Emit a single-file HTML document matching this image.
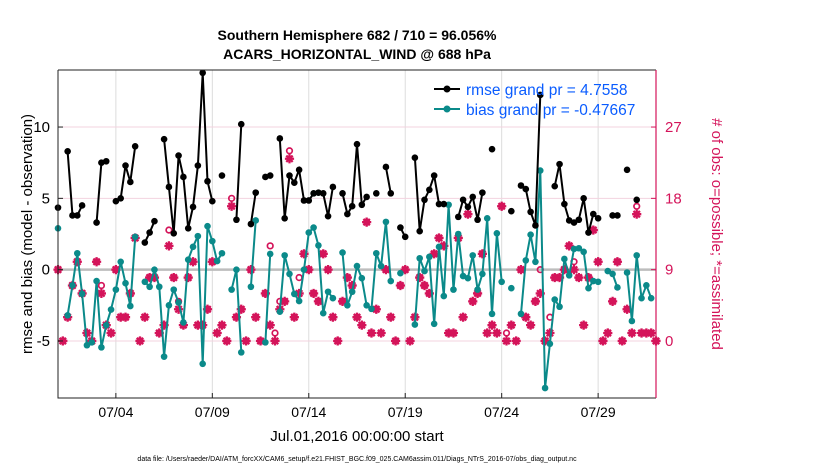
<!DOCTYPE html>
<html><head><meta charset="utf-8">
<style>
body{margin:0;background:#fff;}
svg text{font-family:"Liberation Sans",sans-serif;}
</style></head>
<body>
<svg id="chart" width="830" height="470" viewBox="0 0 830 470" xmlns="http://www.w3.org/2000/svg">
<rect width="830" height="470" fill="#fff"/>
<text x="357" y="40" text-anchor="middle" font-size="14" font-weight="bold">Southern Hemisphere 682 / 710 = 96.056%</text>
<text x="357" y="59" text-anchor="middle" font-size="14" font-weight="bold">ACARS_HORIZONTAL_WIND @ 688 hPa</text>
<g id="grid"></g>
<g id="series"></g>
<g id="axes"></g>
<text transform="translate(32,234) rotate(-90)" text-anchor="middle" font-size="15">rmse and bias (model - observation)</text>
<text transform="translate(712,234) rotate(90)" text-anchor="middle" font-size="15" fill="#d4145a"># of obs: o=possible; *=assimilated</text>
<text x="357" y="441" text-anchor="middle" font-size="15">Jul.01,2016 00:00:00 start</text>
<text x="357" y="461" text-anchor="middle" font-size="7">data file: /Users/raeder/DAI/ATM_forcXX/CAM6_setup/f.e21.FHIST_BGC.f09_025.CAM6assim.011/Diags_NTrS_2016-07/obs_diag_output.nc</text>
<g>
<line x1="434" y1="89" x2="460" y2="89" stroke="#000" stroke-width="2"/>
<circle cx="447" cy="89" r="3.5" fill="#000"/>
<text x="466" y="95" font-size="15.5" fill="#0a5cff">rmse grand pr = 4.7558</text>
<line x1="434" y1="109" x2="460" y2="109" stroke="#0b8a8a" stroke-width="2"/>
<circle cx="447" cy="109" r="3.5" fill="#0b8a8a"/>
<text x="466" y="115" font-size="15.5" fill="#0a5cff">bias grand pr = -0.47667</text>
</g>
</svg>
<script>
const n=null;
const rmse=[4.35,n,8.3,3.8,3.8,4.5,n,n,3.3,7.5,7.6,n,4.8,5.0,7.3,6.15,8.65,n,1.9,2.6,3.4,n,9.15,5.8,2.55,8.0,6.5,2.9,4.4,7.3,13.8,6.2,4.8,n,6.6,n,n,3.5,10.2,n,3.2,5.4,n,6.5,6.6,n,9.2,3.6,6.6,6.1,7.0,4.85,4.85,5.35,5.4,5.35,3.75,5.8,n,5.35,3.9,4.45,8.8,4.55,5.1,n,5.35,n,7.2,5.35,n,2.95,2.3,n,7.85,2.7,4.9,5.6,6.6,4.6,4.6,n,n,3.7,4.9,4.4,5.1,3.5,5.4,n,8.45,n,n,n,4.1,n,5.9,5.65,4.05,3.1,12.25,n,n,5.85,7.4,4.6,3.45,3.3,3.5,5.0,2.6,3.9,3.6,n,n,3.8,3.8,n,7.0,n,4.9,n,n,n,n];
const bias=[2.9,n,-3.2,-1.1,1.15,-1.7,-5.3,-5.1,-0.8,-5.45,-3.9,-2.8,-1.4,0.55,-0.95,-2.55,2.3,n,-0.85,-1.2,0.0,-1.2,-6.1,-2.5,-1.4,-2.3,-3.7,0.7,1.6,2.35,-6.6,3.05,2.0,0.6,1.15,n,-1.4,0.0,-5.8,n,-1.2,3.45,n,-5.1,1.1,n,-2.95,1.0,-0.3,-1.7,-2.2,0.0,2.6,2.95,1.7,-3.05,-1.55,-2.0,n,1.2,-2.5,-1.55,0.25,-0.6,-2.5,-2.75,1.15,0.25,3.35,-0.8,n,-0.25,n,n,-3.85,0.8,-0.1,0.9,-3.8,1.6,-1.85,4.55,-1.4,2.5,-0.45,-0.6,1.0,-1.4,-0.3,3.6,-3.1,2.55,-0.85,n,-1.3,n,-3.1,0.65,2.45,0.55,6.95,-8.3,-5.2,-2.1,-2.6,0.75,-0.4,1.45,1.5,1.25,-1.3,-0.8,-0.85,n,-0.1,-0.3,-1.25,n,-0.2,-3.6,1.0,-2.0,-1.1,-2.0,n];
const assimilated=[9,0,3,7,10,6,1,0,10,6,2,1,9,3,3,6,13,0,3,8,8,1,2,12,8,4,2,8,10,2,2,4,10,1,2,0,17,3,4,0,9,3,0,6,2,0,4,5,23,3,6,11,9,6,5,11,9,3,0,5,8,7,3,2,15,1,4,1,9,3,0,7,9,0,3,8,7,6,11,13,12,1,1,13,3,16,5,6,11,1,2,1,17,0,2,0,9,3,2,5,6,0,1,8,8,9,12,9,8,2,8,14,10,0,1,5,10,0,4,1,16,1,1,1,0];
const possible=[9,0,3,7,10,6,1,0,10,7,2,1,9,3,3,6,13,0,3,8,8,1,2,14,8,5,2,8,10,2,2,4,10,1,2,0,18,3,4,0,9,3,0,6,12,1,5,5,24,3,8,11,9,6,5,11,9,3,0,5,8,7,3,2,15,1,4,1,9,3,0,7,9,0,3,8,7,6,11,13,12,1,1,13,3,16,5,6,11,1,2,1,17,1,2,0,9,3,2,5,9,0,3,8,8,9,12,10,8,2,8,14,10,0,1,5,10,0,4,1,17,1,1,1,0];
const xTickDays=[3,8,13,18,23,28];
const xTickLabels=["07/04","07/09","07/14","07/19","07/24","07/29"];
const yTicks=[-5,0,5,10];
const y2Ticks=[0,9,18,27];
const stepDays=0.25;

const L=58,R=656,T=70,B=398;
const X=d=>L+(d-0)/(31-0)*(R-L);
const Y=v=>B-(v-(-9))/(14-(-9))*(B-T);
const Y2=c=>Y(c/1.8-5);
const NS="http://www.w3.org/2000/svg";
function mk(tag,attrs,parent){const e=document.createElementNS(NS,tag);for(const k in attrs)e.setAttribute(k,attrs[k]);parent.appendChild(e);return e;}
const grid=document.getElementById('grid'),ser=document.getElementById('series'),ax=document.getElementById('axes');

xTickDays.forEach((d,i)=>{
  const g=mk('line',{x1:X(d),x2:X(d),y1:T,y2:B,stroke:'#dcdcdc','stroke-width':1},grid);
  
  
  const t=mk('line',{x1:X(d),x2:X(d),y1:B,y2:B-5,stroke:'#222','stroke-width':1},ax);
  
  
  const tx=mk('text',{x:X(d),y:B+19,'text-anchor':'middle','font-size':14},ax);
  tx.textContent=xTickLabels[i];
  
  
});
yTicks.forEach(v=>{
  if(v!==0){const g=mk('line',{x1:L,x2:R,y1:Y(v),y2:Y(v),stroke:'#f3d3df','stroke-width':1},grid);
  
  }
  const t=mk('line',{x1:L,x2:L+5,y1:Y(v),y2:Y(v),stroke:'#222'},ax);
  
  
  const tx=mk('text',{x:L-8,y:Y(v)+5,'text-anchor':'end','font-size':15},ax);
  tx.textContent=v;
  
  
});
const zl=mk('line',{x1:L,x2:R,y1:Y(0),y2:Y(0),stroke:'#bdbdbd','stroke-width':2.5},grid);


y2Ticks.forEach(c=>{
  const t=mk('line',{x1:R,x2:R-5,y1:Y2(c),y2:Y2(c),stroke:'#d4145a'},ax);
  
  
  const tx=mk('text',{x:R+9,y:Y2(c)+5,'font-size':15,fill:'#d4145a'},ax);
  tx.textContent=c;
  
  
});
const fr=mk('path',{d:`M${L},${T}V${B}H${R}M${L},${T}H${R}`,fill:'none',stroke:'#222','stroke-width':1},ax);


const ra=mk('line',{x1:R,x2:R,y1:T,y2:B,stroke:'#d4145a','stroke-width':1.2},ax);



const PINK='#d4145a';
possible.forEach((c,i)=>{
  if(c==null)return;
  const o=mk('circle',{cx:X(i*stepDays),cy:Y2(c),r:2.8,fill:'none',stroke:PINK,'stroke-width':1.7},ser);
  
  
});
assimilated.forEach((c,i)=>{
  if(c==null)return;
  const cx=X(i*stepDays),cy=Y2(c),s=4.6;
  const p=mk('path',{d:`M${cx-s},${cy}H${cx+s}M${cx},${cy-s}V${cy+s}M${cx-3.2},${cy-3.2}L${cx+3.2},${cy+3.2}M${cx-3.2},${cy+3.2}L${cx+3.2},${cy-3.2}`,stroke:PINK,'stroke-width':2.3},ser);
  
  
});
function drawSeries(arr,color,name){
  let d='';let pen=false;
  arr.forEach((v,i)=>{ if(v==null){pen=false;return;} d+=(pen?'L':'M')+X(i*stepDays).toFixed(1)+','+Y(v).toFixed(1); pen=true;});
  const p=mk('path',{d:d,fill:'none',stroke:color,'stroke-width':2},ser);
  
  
  arr.forEach((v,i)=>{ if(v==null)return;
    const c=mk('circle',{cx:X(i*stepDays),cy:Y(v),r:3.3,fill:color},ser);
    
    
  });
}
drawSeries(bias,'#0b8a8a','bias');
drawSeries(rmse,'#000','rmse');
</script>
</body></html>
